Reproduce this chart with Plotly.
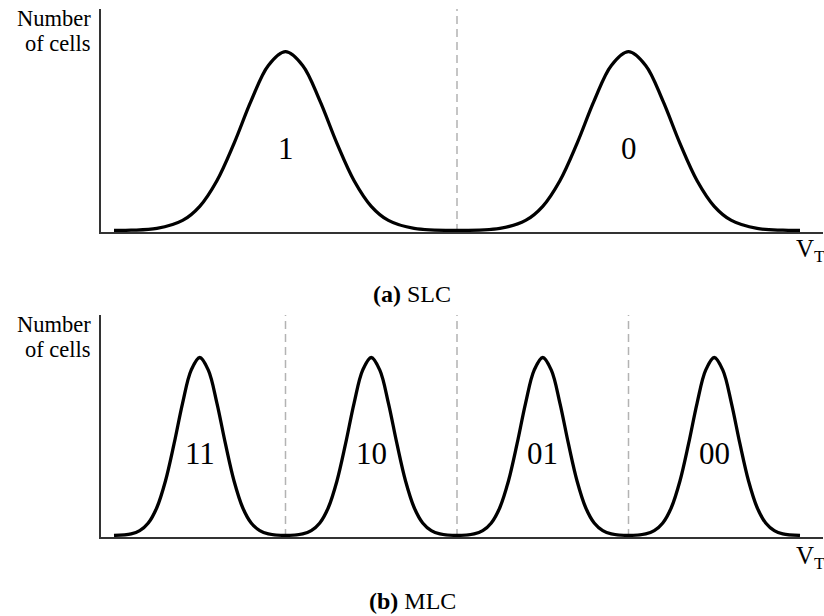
import plotly.graph_objects as go

# ---------------- data ----------------
slc_x = [-2.0, -1.9, -1.75, -1.6, -1.5, -1.4, -1.3, -1.2, -1.1, -1.0, -0.9, -0.8, -0.7, -0.6, -0.5, -0.4, -0.25,
         0.0, 0.25, 0.4, 0.5, 0.6, 0.7, 0.8, 0.9, 1.0, 1.1, 1.2, 1.3, 1.4, 1.5, 1.6, 1.75, 1.9, 2.0]
slc_y = [0.0, 0.001, 0.011, 0.056, 0.135, 0.278, 0.487, 0.726, 0.923, 1.0, 0.923, 0.726, 0.487, 0.278, 0.135, 0.056, 0.011,
         0.0, 0.011, 0.056, 0.135, 0.278, 0.487, 0.726, 0.923, 1.0, 0.923, 0.726, 0.487, 0.278, 0.135, 0.056, 0.011, 0.001, 0.0]

mlc_x = [-2.0,
         -1.9, -1.85, -1.8, -1.75, -1.7, -1.65, -1.6, -1.55, -1.5, -1.45, -1.4, -1.35, -1.3, -1.25, -1.2, -1.15, -1.1,
         -1.0,
         -0.9, -0.85, -0.8, -0.75, -0.7, -0.65, -0.6, -0.55, -0.5, -0.45, -0.4, -0.35, -0.3, -0.25, -0.2, -0.15, -0.1,
         0.0,
         0.1, 0.15, 0.2, 0.25, 0.3, 0.35, 0.4, 0.45, 0.5, 0.55, 0.6, 0.65, 0.7, 0.75, 0.8, 0.85, 0.9,
         1.0,
         1.1, 1.15, 1.2, 1.25, 1.3, 1.35, 1.4, 1.45, 1.5, 1.55, 1.6, 1.65, 1.7, 1.75, 1.8, 1.85, 1.9,
         2.0]
mlc_y = [0.0,
         0.009, 0.027, 0.070, 0.157, 0.306, 0.514, 0.744, 0.929, 1.0, 0.929, 0.744, 0.514, 0.306, 0.157, 0.070, 0.027, 0.009,
         0.0,
         0.009, 0.027, 0.070, 0.157, 0.306, 0.514, 0.744, 0.929, 1.0, 0.929, 0.744, 0.514, 0.306, 0.157, 0.070, 0.027, 0.009,
         0.0,
         0.009, 0.027, 0.070, 0.157, 0.306, 0.514, 0.744, 0.929, 1.0, 0.929, 0.744, 0.514, 0.306, 0.157, 0.070, 0.027, 0.009,
         0.0,
         0.009, 0.027, 0.070, 0.157, 0.306, 0.514, 0.744, 0.929, 1.0, 0.929, 0.744, 0.514, 0.306, 0.157, 0.070, 0.027, 0.009,
         0.0]

slc_states = ["1", "0"]
slc_state_x = [-1.0, 1.0]
slc_thresholds = [0.0]

mlc_states = ["11", "10", "01", "00"]
mlc_state_x = [-1.5, -0.5, 0.5, 1.5]
mlc_thresholds = [-1.0, 0.0, 1.0]

y_label_lines = ["Number", "of cells"]
x_label = "V<sub>T</sub>"
captions = [("(a)", "SLC"), ("(b)", "MLC")]

# ---------------- layout helpers ----------------
W, H = 824, 616
ML, MR, MT, MB = 101, 1, 9, 79
PW, PH = W - ML - MR, H - MT - MB
FONT = "Liberation Serif"


def px_x(p):
    return (p - ML) / PW


def px_y(p):
    return 1 - (p - MT) / PH


fig = go.Figure()
fig.add_trace(go.Scatter(x=slc_x, y=slc_y, mode="lines", line=dict(color="black", width=3.3, shape="spline", smoothing=1.0),
                         xaxis="x", yaxis="y", showlegend=False, hoverinfo="skip"))
fig.add_trace(go.Scatter(x=mlc_x, y=mlc_y, mode="lines", line=dict(color="black", width=3.3, shape="spline", smoothing=1.0),
                         xaxis="x2", yaxis="y2", showlegend=False, hoverinfo="skip"))

xr = [(101 - 457) / 171.5, (823 - 457) / 171.5]
yr = [-0.009, 1.239]
ax_common = dict(showline=True, linecolor="#333", linewidth=1.8, showgrid=False, zeroline=False,
                 showticklabels=False, ticks="", fixedrange=True)

fig.update_layout(
    width=W, height=H,
    margin=dict(l=ML, r=MR, t=MT, b=MB),
    paper_bgcolor="white", plot_bgcolor="white",
    font=dict(family=FONT, color="black"),
    xaxis=dict(range=xr, domain=[0, 1], anchor="y", **ax_common),
    yaxis=dict(range=yr, domain=[px_y(232), 1], anchor="x", **ax_common),
    xaxis2=dict(range=xr, domain=[0, 1], anchor="y2", **ax_common),
    yaxis2=dict(range=yr, domain=[0, px_y(315)], anchor="x2", **ax_common),
)

dash_line = dict(color="#b3b3b3", width=1.5, dash="8px,5px")
shapes = []
for t in slc_thresholds:
    shapes.append(dict(type="line", xref="x", yref="y domain", x0=t, x1=t, y0=0, y1=1, line=dash_line, layer="below"))
for t in mlc_thresholds:
    shapes.append(dict(type="line", xref="x2", yref="y2 domain", x0=t, x1=t, y0=0, y1=1, line=dash_line, layer="below"))
fig.update_layout(shapes=shapes)

ann = []
for s, x in zip(slc_states, slc_state_x):
    ann.append(dict(text=s, x=x, y=0.46, xref="x", yref="y", showarrow=False, font=dict(size=31, family=FONT)))
for s, x in zip(mlc_states, mlc_state_x):
    ann.append(dict(text=s, x=x, y=0.46, xref="x2", yref="y2", showarrow=False, font=dict(size=31, family=FONT)))

# y labels
for top in (0, 306):
    ann.append(dict(text=y_label_lines[0], x=px_x(93), y=px_y(18 + top), xref="paper", yref="paper",
                    xanchor="right", yanchor="middle", showarrow=False, font=dict(size=22.5, family=FONT)))
    ann.append(dict(text=y_label_lines[1], x=px_x(93), y=px_y(43 + top), xref="paper", yref="paper",
                    xanchor="right", yanchor="middle", showarrow=False, font=dict(size=22.5, family=FONT)))
# x labels
for yc in (251, 557):
    ann.append(dict(text=x_label, x=px_x(794), y=px_y(yc), xref="paper", yref="paper",
                    xanchor="left", yanchor="middle", showarrow=False, font=dict(size=25, family=FONT)))
# captions
for (tag, name), yc in zip(captions, (294, 601)):
    ann.append(dict(text=f"<b>{tag}</b> {name}", x=px_x(412), y=px_y(yc), xref="paper", yref="paper",
                    xanchor="center", yanchor="middle", showarrow=False, font=dict(size=24, family=FONT)))

fig.update_layout(annotations=ann)
fig.write_html("out.html", config={"displayModeBar": False, "staticPlot": True},
               post_script="document.body.style.margin='0';document.body.style.overflow='hidden';")
